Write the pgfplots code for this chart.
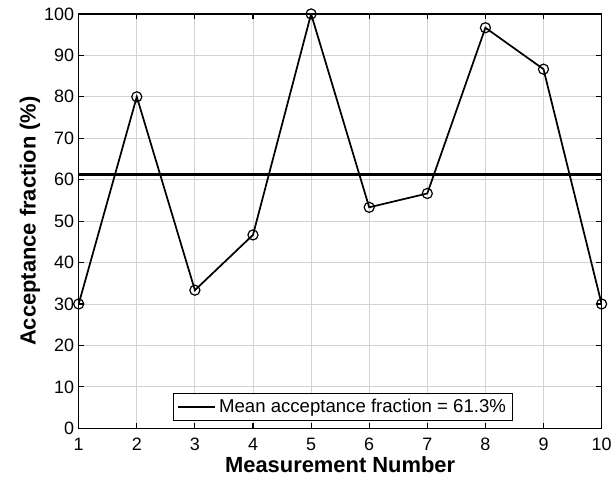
\documentclass[border=0pt]{standalone}
\usepackage{pgfplots}
\pgfplotsset{compat=1.18}
\usepackage{fontspec}
\setmainfont{Liberation Sans}
\begin{document}
\begin{tikzpicture}[x=1pt,y=1pt]
% fixed canvas
\path (0,0) rectangle (462,363.75);
\begin{axis}[
  at={(59.25pt,41.25pt)}, anchor=south west,
  scale only axis, width=393.75pt, height=312pt,
  xmin=1, xmax=10, ymin=0, ymax=100,
  xtick={1,...,10}, ytick={0,10,...,100},
  tick align=inside, tick pos=both,
  major tick length=4pt,
  grid=major, grid style={gray!35, line width=0.6pt},
  axis line style={line width=1pt},
  tick style={black, line width=0.8pt},
  ticklabel style={font=\fontsize{13.5}{15}\selectfont},
  xticklabel style={yshift=-4pt},
  /pgf/number format/assume math mode=true,
  xlabel={\textbf{Measurement Number}},
  ylabel={\textbf{Acceptance fraction (\%)}},
  label style={font=\fontsize{16.5}{18}\selectfont},
  xlabel style={yshift=3pt},
  ylabel style={yshift=-4pt},
  legend style={at={(0.505,0)}, anchor=south, yshift=6pt, draw=black, line width=0.6pt,
    font=\fontsize{14}{16}\selectfont, inner xsep=3pt, inner ysep=2pt},
  legend cell align=left,
  legend image code/.code={\draw[line width=1.8pt] (0pt,0pt) -- (28pt,0pt);},
]
\addplot[black, line width=1.3pt, mark=o, mark size=3.8pt, mark options={line width=0.9pt}, forget plot]
  coordinates {(1,30) (2,80) (3,33.33) (4,46.67) (5,100) (6,53.33) (7,56.67) (8,96.67) (9,86.67) (10,30)};
\addplot[black, line width=2pt] coordinates {(1,61.3) (10,61.3)};
\addlegendentry{Mean acceptance fraction = 61.3\%}
\end{axis}
\end{tikzpicture}
\end{document}
